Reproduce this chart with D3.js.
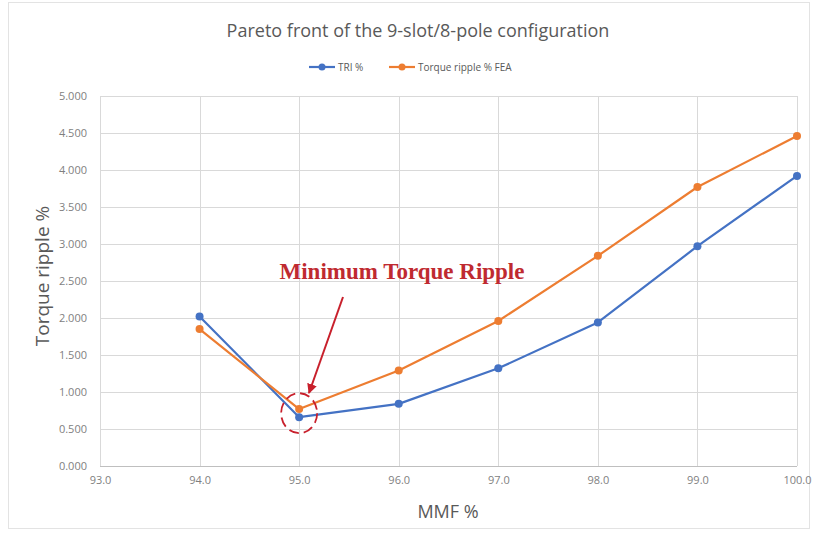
<!DOCTYPE html>
<html>
<head>
<meta charset="utf-8">
<script src="https://cdn.jsdelivr.net/npm/d3@7"></script>
<style>
  html, body { margin: 0; padding: 0; background: #fff; }
  svg { display: block; }
</style>
</head>
<body>
<svg id="chart" width="817" height="535"></svg>
<script>
// MMF % values on the x axis
const mmf = [94.0, 95.0, 96.0, 97.0, 98.0, 99.0, 100.0];
// Torque ripple index (analytical)
const tri = [2.02, 0.66, 0.84, 1.32, 1.94, 2.97, 3.92];
// Torque ripple from finite element analysis
const fea = [1.85, 0.77, 1.29, 1.96, 2.84, 3.77, 4.46];
// Axis ticks
const xTicks = [93, 94, 95, 96, 97, 98, 99, 100];
const yTicks = [0, 0.5, 1, 1.5, 2, 2.5, 3, 3.5, 4, 4.5, 5];
const seriesNames = ["TRI %", "Torque ripple % FEA"];
const colors = ["#4472c4", "#ed7d31"];
// Highlighted optimum
const optimumX = 95.0;
const optimumY = 0.72;

const svg = d3.select("#chart");
const margin = { left: 100, top: 96 };
const x = d3.scaleLinear().domain([93, 100]).range([margin.left, 797]);
const y = d3.scaleLinear().domain([0, 5]).range([466, margin.top]);

const font = "'Open Sans', 'Liberation Sans', sans-serif";

// outer frame
svg.append("rect").attr("x", 8.5).attr("y", 2.5).attr("width", 801).attr("height", 526)
  .attr("fill", "#fff").attr("stroke", "#e3e3e3");

// grid
const grid = svg.append("g");
grid.selectAll("line.h").data(yTicks).join("line")
  .attr("x1", x(93)).attr("x2", x(100))
  .attr("y1", d => Math.round(y(d)) + 0.5).attr("y2", d => Math.round(y(d)) + 0.5)
  .attr("stroke", d => d === 0 ? "#bfbfbf" : "#d9d9d9").attr("stroke-width", 1);
grid.selectAll("line.v").data(xTicks).join("line")
  .attr("x1", d => Math.round(x(d)) + 0.5).attr("x2", d => Math.round(x(d)) + 0.5)
  .attr("y1", y(5)).attr("y2", y(0))
  .attr("stroke", "#d9d9d9").attr("stroke-width", 1);

// axes (labels only, lines drawn by grid)
const yAxis = d3.axisLeft(y).tickValues(yTicks).tickFormat(d3.format(".3f")).tickSize(0).tickPadding(13);
const gy = svg.append("g").attr("transform", `translate(${margin.left},0)`).call(yAxis);
gy.select(".domain").remove();
gy.selectAll("text").attr("fill", "#7f7f7f").style("font-family", font).style("font-size", "11px");

const xAxis = d3.axisBottom(x).tickValues(xTicks).tickFormat(d3.format(".1f")).tickSize(0).tickPadding(10);
const gx = svg.append("g").attr("transform", `translate(0,${y(0)})`).call(xAxis);
gx.select(".domain").remove();
gx.selectAll("text").attr("fill", "#7f7f7f").style("font-family", font).style("font-size", "11px");

// series
const line = d3.line().x(d => x(d[0])).y(d => y(d[1]));
[tri, fea].forEach((vals, i) => {
  const pts = mmf.map((m, j) => [m, vals[j]]);
  svg.append("path").datum(pts).attr("d", line)
    .attr("fill", "none").attr("stroke", colors[i]).attr("stroke-width", 2.2)
    .attr("stroke-linejoin", "round");
  svg.append("g").selectAll("circle").data(pts).join("circle")
    .attr("cx", d => x(d[0])).attr("cy", d => y(d[1])).attr("r", 4)
    .attr("fill", colors[i]);
});

// title
svg.append("text").attr("x", 418).attr("y", 37).attr("text-anchor", "middle")
  .attr("fill", "#595959").style("font-family", font).style("font-size", "18px")
  .text("Pareto front of the 9-slot/8-pole configuration");

// legend
const legendItems = [{ x: 309, name: seriesNames[0] }, { x: 389, name: seriesNames[1] }];
legendItems.forEach((it, i) => {
  const g = svg.append("g").attr("transform", `translate(${it.x},67)`);
  g.append("line").attr("x1", 0).attr("x2", 26).attr("stroke", colors[i]).attr("stroke-width", 2.2);
  g.append("circle").attr("cx", 13).attr("r", 3.5).attr("fill", colors[i]);
  g.append("text").attr("x", 29).attr("y", 3.5).attr("fill", "#595959")
    .style("font-family", font).style("font-size", "10px").text(it.name);
});

// axis titles
svg.append("text").attr("x", 448).attr("y", 518).attr("text-anchor", "middle")
  .attr("fill", "#595959").style("font-family", font).style("font-size", "18px").text("MMF %");
svg.append("text").attr("transform", "translate(49,276) rotate(-90)").attr("text-anchor", "middle")
  .attr("fill", "#595959").style("font-family", font).style("font-size", "19px").text("Torque ripple %");

// annotation
const red = "#c8202c";
svg.append("text").attr("x", 402).attr("y", 279).attr("text-anchor", "middle")
  .attr("fill", "#bf2a30").style("font-family", "'Liberation Serif', 'DejaVu Serif', serif")
  .style("font-weight", "bold").style("font-size", "23px").text("Minimum Torque Ripple");

svg.append("defs").append("marker").attr("id", "arrowhead")
  .attr("viewBox", "0 0 10 10").attr("refX", 9).attr("refY", 5)
  .attr("markerWidth", 5).attr("markerHeight", 5).attr("orient", "auto")
  .append("path").attr("d", "M0,0 L10,5 L0,10 Z").attr("fill", red);

svg.append("line").attr("x1", 343).attr("y1", 297).attr("x2", 309).attr("y2", 393)
  .attr("stroke", red).attr("stroke-width", 2).attr("marker-end", "url(#arrowhead)");

svg.append("ellipse").attr("cx", x(optimumX)).attr("cy", y(optimumY) + 0.5).attr("rx", 18).attr("ry", 20)
  .attr("fill", "none").attr("stroke", red).attr("stroke-width", 1.8)
  .attr("stroke-dasharray", "10,5");
</script>
</body>
</html>
